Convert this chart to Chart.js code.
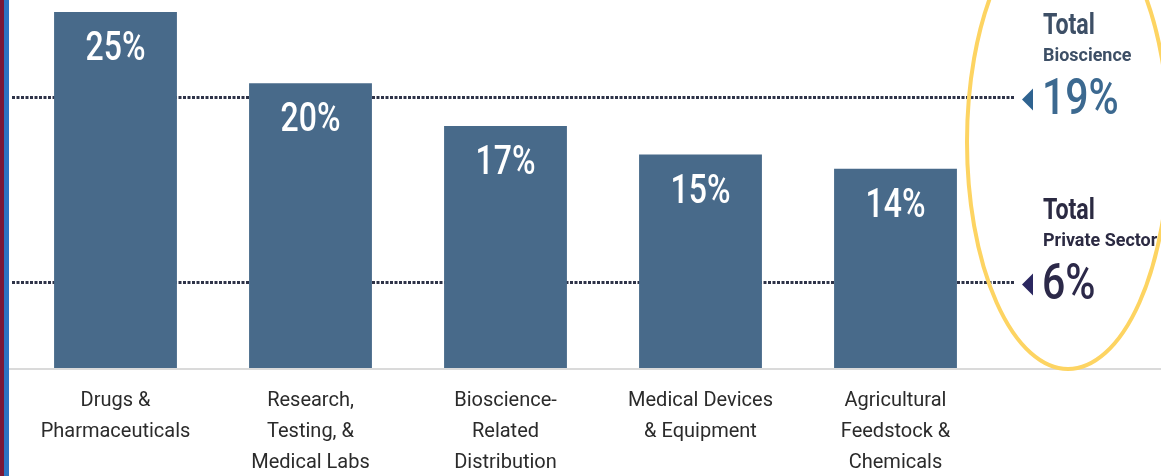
<!DOCTYPE html>
<html>
<head>
<meta charset="utf-8">
<script src="https://cdn.jsdelivr.net/npm/chart.js@4.4.1/dist/chart.umd.min.js"></script>
<style>
    html, body { margin: 0; padding: 0; background: #fff; overflow: hidden; }
    #wrap { position: relative; width: 1161px; height: 476px; overflow: hidden; }
    #chart { position: absolute; left: 0; top: 0; }
    .stripe-red { position: absolute; left: 0; top: 0; width: 4px; height: 476px; background: #7a1838; }
    .stripe-blue { position: absolute; left: 4px; top: 0; width: 5px; height: 476px; background: #2c74c4; }
</style>
</head>
<body>
<div id="wrap">
    <canvas id="chart" width="1161" height="495"></canvas>
    <div class="stripe-red"></div>
    <div class="stripe-blue"></div>
</div>
<script>
// growth by bioscience subsector
const categories = [
    ['Drugs &', 'Pharmaceuticals'],
    ['Research,', 'Testing, &', 'Medical Labs'],
    ['Bioscience-', 'Related', 'Distribution'],
    ['Medical Devices', '& Equipment'],
    ['Agricultural', 'Feedstock &', 'Chemicals'],
];
const growthValues = [25, 20, 17, 15, 14];

// reference totals shown on the right
const totalNames = [['Total', 'Bioscience'], ['Total', 'Private Sector']];
const totalValues = [19, 6];

// styles
const barColor = '#486a8a';
const totalColors = [
    { title: '#3d4f66', value: '#3c6990', arrow: '#2f6390' },
    { title: '#2b2a42', value: '#2c2949', arrow: '#2b2760' },
];

const pct = v => v + '%';

// draws text squeezed horizontally, the source uses a condensed face
function drawCondensed(ctx, text, x, y, scale) {
    ctx.save();
    ctx.translate(x, y);
    ctx.scale(scale, 1);
    ctx.fillText(text, 0, 0);
    ctx.restore();
}

const referenceLines = {
    id: 'referenceLines',
    beforeDatasetsDraw(chart) {
        const ctx = chart.ctx;
        const yScale = chart.scales.y;
        const area = chart.chartArea;

        // base line
        ctx.save();
        ctx.strokeStyle = '#dadada';
        ctx.lineWidth = 2;
        ctx.beginPath();
        ctx.moveTo(9, area.bottom + 1);
        ctx.lineTo(chart.width, area.bottom + 1);
        ctx.stroke();
        ctx.restore();

        totalValues.forEach((value, i) => {
            const y = yScale.getPixelForValue(value);
            const colors = totalColors[i];

            ctx.save();
            ctx.strokeStyle = '#2e3348';
            ctx.lineWidth = 3;
            ctx.setLineDash([3, 1.5]);
            ctx.beginPath();
            ctx.moveTo(12, y);
            ctx.lineTo(1015, y);
            ctx.stroke();
            ctx.restore();

            // arrow head
            ctx.save();
            ctx.fillStyle = colors.arrow;
            ctx.beginPath();
            ctx.moveTo(1022, y + 2);
            ctx.lineTo(1033, y - 9);
            ctx.lineTo(1033, y + 13);
            ctx.closePath();
            ctx.fill();

            ctx.textAlign = 'left';
            ctx.textBaseline = 'middle';
            ctx.fillStyle = colors.value;
            ctx.font = '500 50px Roboto';
            drawCondensed(ctx, pct(value), 1042, y + 4, 0.82);

            ctx.fillStyle = colors.title;
            ctx.font = 'bold 29px Roboto';
            drawCondensed(ctx, totalNames[i][0], 1043, y - 71, 0.8);
            ctx.font = 'bold 18.5px Roboto';
            drawCondensed(ctx, totalNames[i][1], 1043, y - 41, 0.97);
            ctx.restore();
        });
    }
};

const barLabels = {
    id: 'barLabels',
    afterDatasetsDraw(chart) {
        const ctx = chart.ctx;
        const meta = chart.getDatasetMeta(0);
        ctx.save();
        ctx.fillStyle = '#ffffff';
        ctx.font = '500 41px Roboto';
        ctx.textAlign = 'center';
        ctx.textBaseline = 'middle';
        meta.data.forEach((bar, i) => {
            drawCondensed(ctx, pct(growthValues[i]), bar.x, bar.y + 38, 0.78);
        });
        ctx.restore();
    }
};

const highlightRing = {
    id: 'highlightRing',
    afterDraw(chart) {
        const ctx = chart.ctx;
        ctx.save();
        ctx.strokeStyle = '#fdd462';
        ctx.lineWidth = 4;
        ctx.beginPath();
        ctx.ellipse(1068, 142, 101, 227, 0, 0, Math.PI * 2);
        ctx.stroke();
        ctx.restore();
    }
};

new Chart(document.getElementById('chart'), {
    type: 'bar',
    data: {
        labels: categories,
        datasets: [{
            data: growthValues,
            backgroundColor: barColor,
            borderWidth: 0,
            barPercentage: 0.63,
            categoryPercentage: 1,
        }],
    },
    options: {
        responsive: false,
        animation: false,
        devicePixelRatio: 1,
        layout: {
            padding: { top: 12, left: 18, right: 168, bottom: 0 },
        },
        plugins: {
            legend: { display: false },
            tooltip: { enabled: false },
        },
        scales: {
            x: {
                grid: { display: false, drawTicks: false },
                border: { display: false },
                ticks: {
                    color: '#2b2b2b',
                    font: { family: 'Roboto', size: 20, lineHeight: 1.55 },
                    padding: 17,
                    autoSkip: false,
                    maxRotation: 0,
                    minRotation: 0,
                },
            },
            y: {
                display: false,
                min: 0,
                max: 25,
            },
        },
    },
    plugins: [referenceLines, barLabels, highlightRing],
});
</script>
</body>
</html>
